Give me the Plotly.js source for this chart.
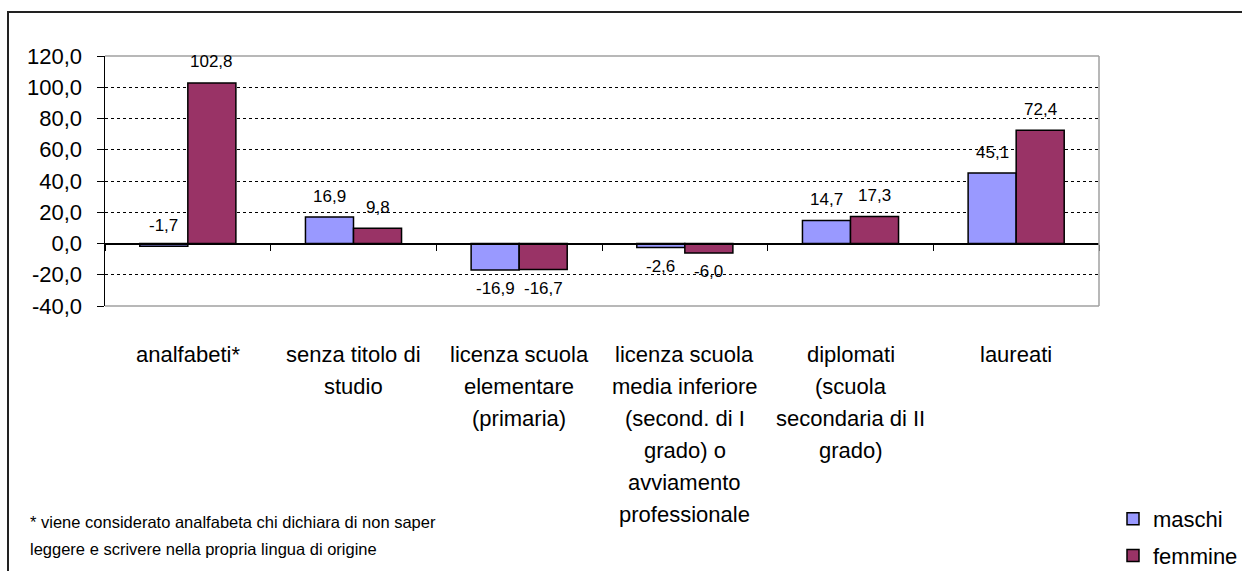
<!DOCTYPE html>
<html>
<head>
<meta charset="utf-8">
<script src="https://cdn.plot.ly/plotly-3.0.1.min.js"></script>
<style>html,body{margin:0;padding:0;background:#fff;}#chart{width:1242px;height:571px;}</style>
</head>
<body>
<div id="chart"></div>
<script>
// ---- data ----
const categories = [
  "analfabeti*",
  "senza titolo di studio",
  "licenza scuola elementare (primaria)",
  "licenza scuola media inferiore (second. di I grado) o avviamento professionale",
  "diplomati (scuola secondaria di II grado)",
  "laureati"
];
const categoryLines = [
  ["analfabeti*"],
  ["senza titolo di", "studio"],
  ["licenza scuola", "elementare", "(primaria)"],
  ["licenza scuola", "media inferiore", "(second. di I", "grado) o", "avviamento", "professionale"],
  ["diplomati", "(scuola", "secondaria di II", "grado)"],
  ["laureati"]
];
const maschi = [-1.7, 16.9, -16.9, -2.6, 14.7, 45.1];
const femmine = [102.8, 9.8, -16.7, -6.0, 17.3, 72.4];
const seriesNames = ["maschi", "femmine"];
const yTicks = [-40, -20, 0, 20, 40, 60, 80, 100, 120];
const yTickLabels = ["-40,0", "-20,0", "0,0", "20,0", "40,0", "60,0", "80,0", "100,0", "120,0"];
const footnote = [
  "* viene considerato analfabeta chi dichiara di non saper",
  "leggere e scrivere nella propria lingua di origine"
];

const FONT = "'Liberation Sans', Arial, sans-serif";
const colors = ["#9999FF", "#993366"];
const allSeries = [maschi, femmine];

const traces = allSeries.map((vals, s) => ({
  type: "bar",
  name: seriesNames[s],
  x: categories,
  y: vals,
  legendgroup: seriesNames[s],
  marker: {color: colors[s], line: {color: "#000", width: 1.5}},
  hoverinfo: "x+y+name"
}));

const annotations = [];
// data labels
allSeries.forEach((vals, s) => {
  vals.forEach((v, i) => {
    const above = v > -2;
    annotations.push({
      x: categories[i], y: v, xref: "x", yref: "y",
      text: v.toFixed(1).replace(".", ","),
      showarrow: false,
      xshift: s === 0 ? -24 : 24,
      yshift: above ? 21 : -19,
      xanchor: "center", yanchor: "middle",
      font: {family: FONT, size: 17, color: "#000"}
    });
  });
});
// category labels
categoryLines.forEach((lines, i) => {
  lines.forEach((ln, k) => {
    annotations.push({
      x: categories[i], y: -0.192, xref: "x", yref: "paper",
      text: ln, showarrow: false, yshift: -32 * k,
      xanchor: "center", yanchor: "middle",
      font: {family: FONT, size: 22, color: "#000"}
    });
  });
});
// footnote
footnote.forEach((ln, k) => {
  annotations.push({
    x: (28 - 105) / 994, y: 1 - (522 - 56) / 250, xref: "paper", yref: "paper",
    text: ln, showarrow: false, yshift: -27 * k,
    xanchor: "left", yanchor: "middle",
    font: {family: FONT, size: 16.5, color: "#000"}
  });
});

const layout = {
  width: 1242, height: 571,
  margin: {l: 105, r: 143, t: 56, b: 265, pad: 0, autoexpand: false},
  paper_bgcolor: "#fff", plot_bgcolor: "#fff",
  separators: ",.",
  font: {family: FONT, color: "#000"},
  barmode: "group",
  bargap: 0.42, bargroupgap: 0,
  showlegend: true,
  legend: {
    x: (1113 - 105) / 994, y: 1 - (498 - 56) / 250,
    xanchor: "left", yanchor: "top",
    font: {family: FONT, size: 22, color: "#000"},
    tracegroupgap: 5,
    traceorder: "grouped",
    bgcolor: "rgba(0,0,0,0)"
  },
  xaxis: {
    type: "category",
    anchor: "free", position: 0.25,
    showline: true, linecolor: "#000", linewidth: 1.5,
    ticks: "outside", tickson: "boundaries", ticklen: 6, tickcolor: "#000", tickwidth: 1,
    showticklabels: false, showgrid: false, zeroline: false,
    fixedrange: true
  },
  yaxis: {
    range: [-40, 120],
    tickmode: "array",
    tickvals: yTicks,
    ticktext: yTickLabels,
    showline: true, linecolor: "#000", linewidth: 1.5,
    ticks: "outside", ticklen: 7, tickcolor: "#000", tickwidth: 1,
    ticklabelstandoff: 10,
    tickfont: {family: FONT, size: 22, color: "#000"},
    showgrid: true, gridcolor: "#000", gridwidth: 1, griddash: "dot",
    zeroline: true, zerolinecolor: "#000", zerolinewidth: 1.5,
    fixedrange: true
  },
  shapes: [
    // plot area border (gray)
    {type: "line", xref: "paper", yref: "paper", x0: 0, x1: 1, y0: 1, y1: 1, line: {color: "#a0a0a0", width: 1.5}, layer: "above"},
    {type: "line", xref: "paper", yref: "paper", x0: 0, x1: 1, y0: 0, y1: 0, line: {color: "#a0a0a0", width: 1.5}, layer: "above"},
    {type: "line", xref: "paper", yref: "paper", x0: 1, x1: 1, y0: 0, y1: 1, line: {color: "#a0a0a0", width: 1.5}, layer: "above"},
    // outer chart border
    {type: "rect", xref: "paper", yref: "paper",
     x0: (8 - 105) / 994, x1: (1260 - 105) / 994,
     y0: 1 - (600 - 56) / 250, y1: 1 + (56 - 12) / 250,
     line: {color: "#222", width: 2}, fillcolor: "rgba(0,0,0,0)", layer: "below"}
  ],
  annotations: annotations
};

Plotly.newPlot("chart", traces, layout, {displayModeBar: false, staticPlot: true});
</script>
</body>
</html>
